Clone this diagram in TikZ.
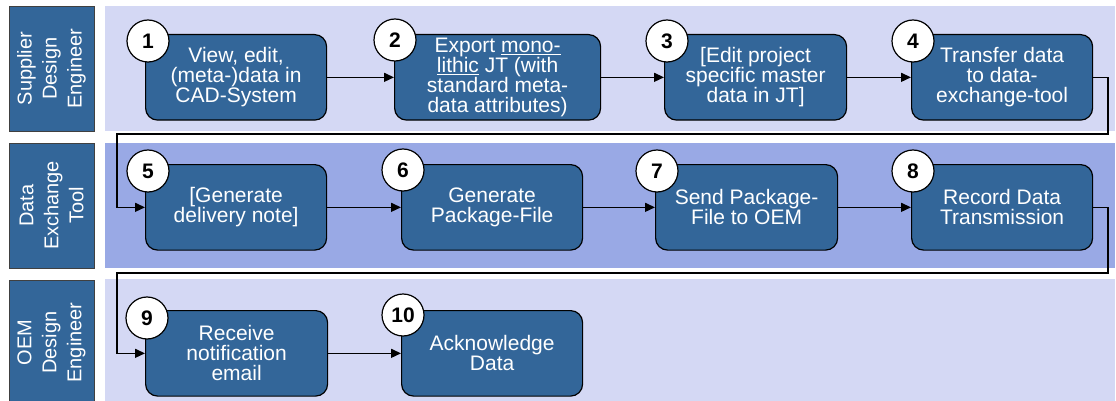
\documentclass[tikz,border=0pt]{standalone}
\usepackage{fontspec}
\setmainfont{Liberation Sans}
\usetikzlibrary{arrows.meta}
\definecolor{boxblue}{RGB}{51,102,153}
\definecolor{lanelight}{RGB}{212,216,244}
\definecolor{lanemid}{RGB}{153,169,229}
\newcommand{\myul}[1]{\setbox0\hbox{#1}\rlap{\rule[-2.6pt]{\wd0}{1.3pt}}\box0\relax}
\begin{document}
\begin{tikzpicture}[x=1pt,y=-1pt,
  lanebg/.style={fill=#1, draw=none, anchor=north west, inner sep=0pt, minimum width=1010pt},
  lanelbl/.style={fill=boxblue, draw=black!75, line width=0.8pt, inner sep=0pt, rotate=90,
    minimum height=85pt, text=white, align=center, font=\fontsize{20}{25}\selectfont},
  stepbox/.style={rounded corners=12pt, fill=boxblue, draw=black, line width=1.2pt,
    text=white, align=center, font=\fontsize{21}{20}\selectfont, inner sep=0pt,
    minimum width=181pt, minimum height=85.5pt, anchor=north west},
  num/.style={circle, fill=white, draw=black, line width=1.2pt, minimum size=42pt, inner sep=0pt,
    font=\fontsize{21}{21}\selectfont\bfseries},
  conn/.style={draw=black, line width=1.4pt, -{Triangle[length=10pt,width=9pt]}}
]
\useasboundingbox (0,0) rectangle (1116,401);
% lane backgrounds
\node[lanebg=lanelight, minimum height=125pt] (bg1) at (105,6) {};
\node[lanebg=lanemid, minimum height=125pt] (bg2) at (105,143) {};
\node[lanebg=lanelight, minimum height=125pt] (bg3) at (105,279) {};
% lane labels
\node[lanelbl, minimum width=125pt] (l1) at (51.5,68.5) {Supplier\\Design\\Engineer};
\node[lanelbl, minimum width=125pt] (l2) at (51.5,205.5) {Data\\Exchange\\Tool};
\node[lanelbl, minimum width=125pt] (l3) at (51.5,342.5) {OEM\\Design\\Engineer};
% steps
\node[stepbox] (b1) at (145,34) {View, edit,\\(meta-)data in\\CAD-System};
\node[stepbox, minimum width=206pt] (b2) at (394,34) {Export \myul{mono-}\\\myul{lithic} JT (with\\standard meta-\\data attributes)};
\node[stepbox, minimum width=182pt] (b3) at (664,34) {[Edit project\\specific master\\data in JT]};
\node[stepbox] (b4) at (911,34) {Transfer data\\to data-\\exchange-tool};
\node[stepbox] (b5) at (145,164) {[Generate\\delivery note]};
\node[stepbox] (b6) at (401,164) {Generate\\Package-File};
\node[stepbox, minimum width=182pt] (b7) at (655,164) {Send Package-\\File to OEM};
\node[stepbox] (b8) at (911,164) {Record Data\\Transmission};
\node[stepbox, minimum width=182pt] (b9) at (145,310) {Receive\\notification\\email};
\node[stepbox] (b10) at (401,310) {Acknowledge\\Data};
% numbers
\node[num] (n1) at (148,41) {1};
\node[num] (n2) at (395,40) {2};
\node[num] (n3) at (667,41) {3};
\node[num] (n4) at (913,41) {4};
\node[num] (n5) at (148,171) {5};
\node[num] (n6) at (403,170) {6};
\node[num] (n7) at (657,171) {7};
\node[num] (n8) at (913,171) {8};
\node[num] (n9) at (147,318) {9};
\node[num] (n10) at (403,315) {10};
% connectors
\coordinate (r1) at (1108,134);
\coordinate (k1) at (117,134);
\coordinate (r2) at (1108,273);
\coordinate (k2) at (117,273);
\draw[conn] (b1.east) -- (b2.west);
\draw[conn] (b2.east) -- (b3.west);
\draw[conn] (b3.east) -- (b4.west);
\draw[conn] (b4.east) -| (r1) -- (k1) |- (b5.west);
\draw[conn] (b5.east) -- (b6.west);
\draw[conn] (b6.east) -- (b7.west);
\draw[conn] (b7.east) -- (b8.west);
\draw[conn] (b8.east) -| (r2) -- (k2) |- (b9.west);
\draw[conn] (b9.east) -- (b10.west);
\end{tikzpicture}
\end{document}
